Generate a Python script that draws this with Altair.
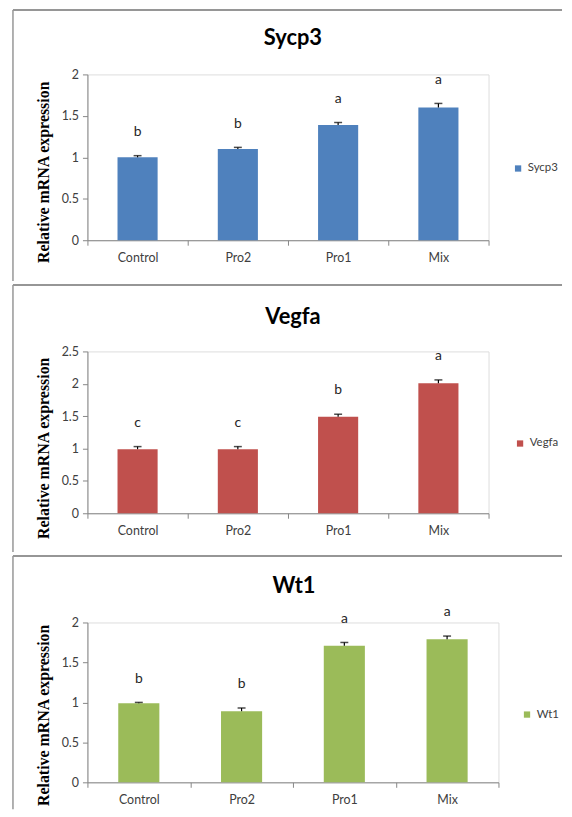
import altair as alt
import pandas as pd

categories = ["Control", "Pro2", "Pro1", "Mix"]

sycp3_values = [1.00, 1.10, 1.39, 1.60]
sycp3_errors = [0.02, 0.02, 0.03, 0.05]
sycp3_letters = ["b", "b", "a", "a"]

vegfa_values = [0.99, 0.99, 1.49, 2.01]
vegfa_errors = [0.04, 0.04, 0.04, 0.05]
vegfa_letters = ["c", "c", "b", "a"]

wt1_values = [0.99, 0.89, 1.71, 1.79]
wt1_errors = [0.01, 0.04, 0.04, 0.04]
wt1_letters = ["b", "b", "a", "a"]

ticks_2 = [0, 0.5, 1, 1.5, 2]
ticks_25 = [0, 0.5, 1, 1.5, 2, 2.5]

Y_TITLE = "Relative mRNA expression"
LABEL_FONT = "Lato"
AXIS_GRAY = "#868686"
BORDER = "#969696"


def panel(gene, values, errors, letters, color, ymax, ticks, w, h, g):
    df = pd.DataFrame({
        "category": categories,
        "value": values,
        "error": errors,
        "letter": letters,
        "gene": [gene] * len(categories),
    })
    df["upper"] = df["value"] + df["error"]
    base = alt.Chart(df)

    x = alt.X(
        "category:N", sort=categories, title=None,
        scale=alt.Scale(paddingInner=0, paddingOuter=0),
        axis=alt.Axis(labelAngle=0, tickBand="extent", domainColor=AXIS_GRAY,
                      tickColor=AXIS_GRAY, tickSize=5, labelPadding=6,
                      labelFontSize=12.5, labelColor="#404040", labelFont=LABEL_FONT),
    )
    xs = alt.X("category:N", sort=categories)
    y = alt.Y(
        "value:Q",
        scale=alt.Scale(domain=[0, ymax], nice=False, zero=True),
        axis=alt.Axis(values=ticks, tickCount=len(ticks), format="~g", grid=False,
                      labelOverlap=False,
                      domainColor=AXIS_GRAY, tickColor=AXIS_GRAY, tickSize=5,
                      labelPadding=4, labelFontSize=12.5, labelColor="#404040",
                      labelFont=LABEL_FONT,
                      title=Y_TITLE, titleX=-44, titleY=g["ty"], titleAngle=270,
                      titleAlign="center", titleBaseline="middle",
                      titleFont="Liberation Serif", titleFontSize=16,
                      titleFontWeight="bold", titleColor="#000000"),
    )

    bars = base.mark_bar(width=alt.RelativeBandSize(0.4)).encode(
        x=x, y=y,
        color=alt.Color(
            "gene:N",
            scale=alt.Scale(domain=[gene], range=[color]),
            legend=alt.Legend(title=None, orient="none", legendX=g["lx"], legendY=g["ly"],
                              symbolType="square", symbolSize=40, symbolStrokeWidth=0,
                              labelFontSize=11.5, labelFont=LABEL_FONT,
                              labelColor="#404040", labelOffset=4),
        ),
    )
    err = base.mark_rule(color="black", strokeWidth=1.2).encode(
        x=xs, y="value:Q", y2="upper:Q")
    caps = base.mark_tick(color="black", thickness=1.5, size=8).encode(
        x=xs, y="upper:Q")
    lets = base.mark_text(dy=-24, fontSize=14, font=LABEL_FONT, color="#262626",
                          baseline="middle").encode(x=xs, y="upper:Q", text="letter:N")

    deco = alt.Chart(alt.Data(values=[{"t": gene}]))
    top_rule = deco.mark_rule(color=BORDER, strokeWidth=2).encode(
        x=alt.value(-75), x2=alt.value(478), y=alt.value(g["top"]))
    left_rule = deco.mark_rule(color=BORDER, strokeWidth=1.5).encode(
        x=alt.value(-75), y=alt.value(g["top"]), y2=alt.value(g["bottom"]))
    title = deco.mark_text(font=LABEL_FONT, fontSize=22, fontWeight="bold",
                           color="#000000", baseline="middle", align="center").encode(
        x=alt.value(g["tx"]), y=alt.value(g["tty"]), text="t:N")

    return alt.layer(bars, err, caps, lets, top_rule, left_rule, title).properties(
        width=w, height=h)


p1 = panel("Sycp3", sycp3_values, sycp3_errors, sycp3_letters, "#4F81BD", 2, ticks_2,
           404, 167, dict(top=-65, bottom=208, lx=428, ly=89, tx=207, tty=-37, ty=98))
p2 = panel("Vegfa", vegfa_values, vegfa_errors, vegfa_letters, "#C0504D", 2.5, ticks_25,
           404, 163, dict(top=-67, bottom=202, lx=430, ly=87, tx=207, tty=-35, ty=97))
p3 = panel("Wt1", wt1_values, wt1_errors, wt1_letters, "#9BBB59", 2, ticks_2,
           414, 161, dict(top=-67, bottom=188, lx=437, ly=87, tx=208, tty=-37, ty=93))

chart = alt.vconcat(p1, p2, p3, spacing=0).resolve_scale(
    color="independent", x="independent", y="independent"
).properties(
    padding={"left": 3, "top": -3, "right": 0, "bottom": 0}
).configure_view(stroke=None).configure(background="white")

chart.save("out.html", embed_options={"renderer": "svg", "actions": False})
